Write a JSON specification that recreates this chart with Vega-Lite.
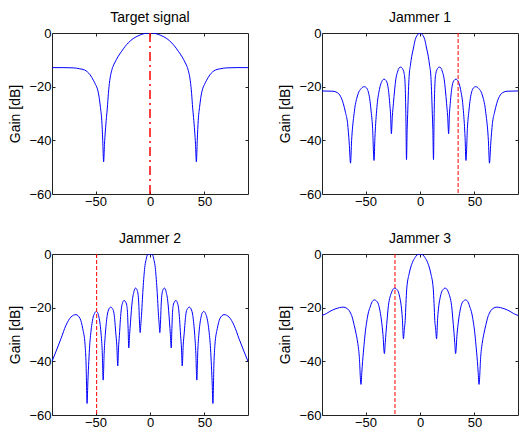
{
"$schema":"https://vega.github.io/schema/vega-lite/v6.json",
"padding":{"left":8,"top":10,"right":0,"bottom":0},
"datasets":{
"curves":[
{"p":"T","a":-90,"g":-12.9},{"p":"T","a":-80,"g":-12.9},{"p":"T","a":-70,"g":-13.0},{"p":"T","a":-65,"g":-13.3},{"p":"T","a":-60,"g":-13.8},{"p":"T","a":-55,"g":-15.6},{"p":"T","a":-52,"g":-17.6},{"p":"T","a":-50,"g":-19.2},{"p":"T","a":-48,"g":-21.3},{"p":"T","a":-46.5,"g":-24.5},{"p":"T","a":-45.5,"g":-27.8},{"p":"T","a":-44.3,"g":-32.5},{"p":"T","a":-43.4,"g":-40},{"p":"T","a":-42.6,"g":-48},{"p":"T","a":-41.8,"g":-41.5},{"p":"T","a":-41,"g":-36.5},{"p":"T","a":-40,"g":-31.5},{"p":"T","a":-39.2,"g":-28},{"p":"T","a":-38.2,"g":-22.5},{"p":"T","a":-37,"g":-17.8},{"p":"T","a":-35.5,"g":-14.5},{"p":"T","a":-34,"g":-12.5},{"p":"T","a":-32,"g":-10.8},{"p":"T","a":-29.5,"g":-8.9},{"p":"T","a":-26,"g":-6.8},{"p":"T","a":-23,"g":-5.1},{"p":"T","a":-20,"g":-3.7},{"p":"T","a":-15.5,"g":-2.1},{"p":"T","a":-10,"g":-0.9},{"p":"T","a":-5,"g":-0.2},{"p":"T","a":0,"g":0},
{"p":"T","a":5,"g":-0.2},{"p":"T","a":10,"g":-0.9},{"p":"T","a":15.5,"g":-2.1},{"p":"T","a":20,"g":-3.7},{"p":"T","a":23,"g":-5.1},{"p":"T","a":26,"g":-6.8},{"p":"T","a":29.5,"g":-8.9},{"p":"T","a":32,"g":-10.8},{"p":"T","a":34,"g":-12.5},{"p":"T","a":35.5,"g":-14.5},{"p":"T","a":37,"g":-17.8},{"p":"T","a":38.2,"g":-22.5},{"p":"T","a":39.2,"g":-28},{"p":"T","a":40,"g":-31.5},{"p":"T","a":41,"g":-36.5},{"p":"T","a":41.8,"g":-41.5},{"p":"T","a":42.6,"g":-48},{"p":"T","a":43.4,"g":-40},{"p":"T","a":44.3,"g":-32.5},{"p":"T","a":45.5,"g":-27.8},{"p":"T","a":46.5,"g":-24.5},{"p":"T","a":48,"g":-21.3},{"p":"T","a":50,"g":-19.2},{"p":"T","a":52,"g":-17.6},{"p":"T","a":55,"g":-15.6},{"p":"T","a":60,"g":-13.8},{"p":"T","a":65,"g":-13.3},{"p":"T","a":70,"g":-13.0},{"p":"T","a":80,"g":-12.9},{"p":"T","a":90,"g":-12.9},

{"p":"J1","a":-90,"g":-21.6},{"p":"J1","a":-80,"g":-21.7},{"p":"J1","a":-76,"g":-22.2},{"p":"J1","a":-73,"g":-23.6},{"p":"J1","a":-70.5,"g":-26.2},{"p":"J1","a":-68.5,"g":-29.5},{"p":"J1","a":-66.5,"g":-33.7},{"p":"J1","a":-65,"g":-41},{"p":"J1","a":-63.8,"g":-48.5},{"p":"J1","a":-62.8,"g":-40},{"p":"J1","a":-61.9,"g":-35},{"p":"J1","a":-60.8,"g":-31},{"p":"J1","a":-59.7,"g":-27.5},{"p":"J1","a":-58.3,"g":-24.7},{"p":"J1","a":-56.7,"g":-22.5},{"p":"J1","a":-54,"g":-20.7},{"p":"J1","a":-51.2,"g":-20},{"p":"J1","a":-49,"g":-20.5},{"p":"J1","a":-47.5,"g":-21.9},{"p":"J1","a":-46.2,"g":-24.5},{"p":"J1","a":-45,"g":-28.7},{"p":"J1","a":-43.6,"g":-35},{"p":"J1","a":-42.2,"g":-47.5},{"p":"J1","a":-41.4,"g":-39},{"p":"J1","a":-40.7,"g":-33.7},{"p":"J1","a":-39.8,"g":-28.8},{"p":"J1","a":-38.9,"g":-25},{"p":"J1","a":-37.8,"g":-22.2},{"p":"J1","a":-36.7,"g":-20},{"p":"J1","a":-35,"g":-18},{"p":"J1","a":-33,"g":-17.2},{"p":"J1","a":-31.2,"g":-17.7},{"p":"J1","a":-29.7,"g":-19.4},{"p":"J1","a":-28.7,"g":-22.2},{"p":"J1","a":-27.8,"g":-26.2},{"p":"J1","a":-27,"g":-30.5},{"p":"J1","a":-26.3,"g":-37.5},{"p":"J1","a":-25.4,"g":-31},{"p":"J1","a":-24.4,"g":-26.2},{"p":"J1","a":-23.3,"g":-21.2},{"p":"J1","a":-22.3,"g":-17.5},{"p":"J1","a":-20.7,"g":-14.6},{"p":"J1","a":-19.3,"g":-13.1},{"p":"J1","a":-17.7,"g":-12.7},{"p":"J1","a":-16.1,"g":-13.3},{"p":"J1","a":-14.6,"g":-15},{"p":"J1","a":-13.8,"g":-18},{"p":"J1","a":-13.4,"g":-22.5},{"p":"J1","a":-12.9,"g":-33},{"p":"J1","a":-12.4,"g":-47.2},{"p":"J1","a":-11.8,"g":-36},{"p":"J1","a":-11.2,"g":-28.7},{"p":"J1","a":-10.6,"g":-21.5},{"p":"J1","a":-10,"g":-16.2},{"p":"J1","a":-8.8,"g":-12},{"p":"J1","a":-7.6,"g":-8.7},{"p":"J1","a":-6,"g":-5.6},{"p":"J1","a":-4.4,"g":-2.5},{"p":"J1","a":-2.5,"g":-0.8},{"p":"J1","a":-1.2,"g":-0.2},{"p":"J1","a":0,"g":0},
{"p":"J1","a":1.2,"g":-0.2},{"p":"J1","a":2.5,"g":-0.8},{"p":"J1","a":4.4,"g":-2.5},{"p":"J1","a":6,"g":-5.6},{"p":"J1","a":7.6,"g":-8.7},{"p":"J1","a":8.8,"g":-12},{"p":"J1","a":10,"g":-16.2},{"p":"J1","a":10.6,"g":-21.5},{"p":"J1","a":11.2,"g":-28.7},{"p":"J1","a":11.8,"g":-36},{"p":"J1","a":12.4,"g":-47.2},{"p":"J1","a":12.9,"g":-33},{"p":"J1","a":13.4,"g":-22.5},{"p":"J1","a":13.8,"g":-18},{"p":"J1","a":14.6,"g":-15},{"p":"J1","a":16.1,"g":-13.3},{"p":"J1","a":17.7,"g":-12.7},{"p":"J1","a":19.3,"g":-13.1},{"p":"J1","a":20.7,"g":-14.6},{"p":"J1","a":22.3,"g":-17.5},{"p":"J1","a":23.3,"g":-21.2},{"p":"J1","a":24.4,"g":-26.2},{"p":"J1","a":25.4,"g":-31},{"p":"J1","a":26.3,"g":-37.5},{"p":"J1","a":27,"g":-30.5},{"p":"J1","a":27.8,"g":-26.2},{"p":"J1","a":28.7,"g":-22.2},{"p":"J1","a":29.7,"g":-19.4},{"p":"J1","a":31.2,"g":-17.7},{"p":"J1","a":33,"g":-17.2},{"p":"J1","a":35,"g":-18},{"p":"J1","a":36.7,"g":-20},{"p":"J1","a":37.8,"g":-22.2},{"p":"J1","a":38.9,"g":-25},{"p":"J1","a":39.8,"g":-28.8},{"p":"J1","a":40.7,"g":-33.7},{"p":"J1","a":41.4,"g":-39},{"p":"J1","a":42.2,"g":-47.5},{"p":"J1","a":43.6,"g":-35},{"p":"J1","a":45,"g":-28.7},{"p":"J1","a":46.2,"g":-24.5},{"p":"J1","a":47.5,"g":-21.9},{"p":"J1","a":49,"g":-20.5},{"p":"J1","a":51.2,"g":-20},{"p":"J1","a":54,"g":-20.7},{"p":"J1","a":56.7,"g":-22.5},{"p":"J1","a":58.3,"g":-24.7},{"p":"J1","a":59.7,"g":-27.5},{"p":"J1","a":60.8,"g":-31},{"p":"J1","a":61.9,"g":-35},{"p":"J1","a":62.8,"g":-40},{"p":"J1","a":63.8,"g":-48.5},{"p":"J1","a":65,"g":-41},{"p":"J1","a":66.5,"g":-33.7},{"p":"J1","a":68.5,"g":-29.5},{"p":"J1","a":70.5,"g":-26.2},{"p":"J1","a":73,"g":-23.6},{"p":"J1","a":76,"g":-22.2},{"p":"J1","a":80,"g":-21.7},{"p":"J1","a":90,"g":-21.6},

{"p":"J2","a":-90,"g":-40},{"p":"J2","a":-86.5,"g":-36.5},{"p":"J2","a":-81.8,"g":-31.6},{"p":"J2","a":-77.2,"g":-26.6},{"p":"J2","a":-72.6,"g":-23.5},{"p":"J2","a":-68,"g":-22.6},{"p":"J2","a":-64.2,"g":-24.1},{"p":"J2","a":-61.8,"g":-27.8},{"p":"J2","a":-59.6,"g":-34},{"p":"J2","a":-58.7,"g":-41},{"p":"J2","a":-57.8,"g":-55.7},{"p":"J2","a":-57,"g":-47},{"p":"J2","a":-56.2,"g":-40},{"p":"J2","a":-55.4,"g":-34},{"p":"J2","a":-54.6,"g":-30.3},{"p":"J2","a":-52.5,"g":-24.1},{"p":"J2","a":-51,"g":-22.2},{"p":"J2","a":-49.4,"g":-21.4},{"p":"J2","a":-47.9,"g":-22},{"p":"J2","a":-46.9,"g":-23.5},{"p":"J2","a":-45.8,"g":-26.2},{"p":"J2","a":-44.8,"g":-30.3},{"p":"J2","a":-43.9,"g":-36},{"p":"J2","a":-43,"g":-47},{"p":"J2","a":-42.1,"g":-37},{"p":"J2","a":-41.1,"g":-30.3},{"p":"J2","a":-40.2,"g":-26},{"p":"J2","a":-39.3,"g":-22.9},{"p":"J2","a":-37.7,"g":-20.5},{"p":"J2","a":-36.1,"g":-19.8},{"p":"J2","a":-34.6,"g":-20.3},{"p":"J2","a":-33.3,"g":-21.6},{"p":"J2","a":-32.4,"g":-24.5},{"p":"J2","a":-31.5,"g":-29.1},{"p":"J2","a":-30.5,"g":-34},{"p":"J2","a":-29.6,"g":-41.7},{"p":"J2","a":-28.9,"g":-35},{"p":"J2","a":-28.1,"g":-30.3},{"p":"J2","a":-27.2,"g":-24.5},{"p":"J2","a":-26.3,"g":-20.4},{"p":"J2","a":-25,"g":-18},{"p":"J2","a":-23.8,"g":-17.3},{"p":"J2","a":-22.5,"g":-17.8},{"p":"J2","a":-21.3,"g":-19.2},{"p":"J2","a":-20.6,"g":-22.5},{"p":"J2","a":-20.1,"g":-27.8},{"p":"J2","a":-19.5,"g":-35},{"p":"J2","a":-18.7,"g":-30},{"p":"J2","a":-17.9,"g":-25.4},{"p":"J2","a":-17.1,"g":-21},{"p":"J2","a":-16.4,"g":-17.9},{"p":"J2","a":-14.8,"g":-14.1},{"p":"J2","a":-13.3,"g":-12.7},{"p":"J2","a":-12,"g":-13.3},{"p":"J2","a":-10.8,"g":-15.5},{"p":"J2","a":-10.2,"g":-19.5},{"p":"J2","a":-9.6,"g":-26},{"p":"J2","a":-9,"g":-29.3},{"p":"J2","a":-8.4,"g":-26},{"p":"J2","a":-7.8,"g":-22.9},{"p":"J2","a":-7,"g":-17},{"p":"J2","a":-6.2,"g":-11.8},{"p":"J2","a":-4.6,"g":-4.3},{"p":"J2","a":-3.5,"g":-2},{"p":"J2","a":-2.5,"g":-0.4},{"p":"J2","a":-1,"g":-0.05},{"p":"J2","a":0,"g":0},
{"p":"J2","a":1,"g":-0.05},{"p":"J2","a":2.5,"g":-0.4},{"p":"J2","a":3.5,"g":-2},{"p":"J2","a":4.6,"g":-4.3},{"p":"J2","a":6.2,"g":-11.8},{"p":"J2","a":7,"g":-17},{"p":"J2","a":7.8,"g":-22.9},{"p":"J2","a":8.4,"g":-26},{"p":"J2","a":9,"g":-29.3},{"p":"J2","a":9.6,"g":-26},{"p":"J2","a":10.2,"g":-19.5},{"p":"J2","a":10.8,"g":-15.5},{"p":"J2","a":12,"g":-13.3},{"p":"J2","a":13.3,"g":-12.7},{"p":"J2","a":14.8,"g":-14.1},{"p":"J2","a":16.4,"g":-17.9},{"p":"J2","a":17.1,"g":-21},{"p":"J2","a":17.9,"g":-25.4},{"p":"J2","a":18.7,"g":-30},{"p":"J2","a":19.5,"g":-35},{"p":"J2","a":20.1,"g":-27.8},{"p":"J2","a":20.6,"g":-22.5},{"p":"J2","a":21.3,"g":-19.2},{"p":"J2","a":22.5,"g":-17.8},{"p":"J2","a":23.8,"g":-17.3},{"p":"J2","a":25,"g":-18},{"p":"J2","a":26.3,"g":-20.4},{"p":"J2","a":27.2,"g":-24.5},{"p":"J2","a":28.1,"g":-30.3},{"p":"J2","a":28.9,"g":-35},{"p":"J2","a":29.6,"g":-41.7},{"p":"J2","a":30.5,"g":-34},{"p":"J2","a":31.5,"g":-29.1},{"p":"J2","a":32.4,"g":-24.5},{"p":"J2","a":33.3,"g":-21.6},{"p":"J2","a":34.6,"g":-20.3},{"p":"J2","a":36.1,"g":-19.8},{"p":"J2","a":37.7,"g":-20.5},{"p":"J2","a":39.3,"g":-22.9},{"p":"J2","a":40.2,"g":-26},{"p":"J2","a":41.1,"g":-30.3},{"p":"J2","a":42.1,"g":-37},{"p":"J2","a":43,"g":-47},{"p":"J2","a":43.9,"g":-36},{"p":"J2","a":44.8,"g":-30.3},{"p":"J2","a":45.8,"g":-26.2},{"p":"J2","a":46.9,"g":-23.5},{"p":"J2","a":47.9,"g":-22},{"p":"J2","a":49.4,"g":-21.4},{"p":"J2","a":51,"g":-22.2},{"p":"J2","a":52.5,"g":-24.1},{"p":"J2","a":54.6,"g":-30.3},{"p":"J2","a":55.4,"g":-34},{"p":"J2","a":56.2,"g":-40},{"p":"J2","a":57,"g":-47},{"p":"J2","a":57.8,"g":-55.7},{"p":"J2","a":58.7,"g":-41},{"p":"J2","a":59.6,"g":-34},{"p":"J2","a":61.8,"g":-27.8},{"p":"J2","a":64.2,"g":-24.1},{"p":"J2","a":68,"g":-22.6},{"p":"J2","a":72.6,"g":-23.5},{"p":"J2","a":77.2,"g":-26.6},{"p":"J2","a":81.8,"g":-31.6},{"p":"J2","a":86.5,"g":-36.5},{"p":"J2","a":90,"g":-40},

{"p":"J3","a":-90,"g":-22.9},{"p":"J3","a":-86,"g":-22.2},{"p":"J3","a":-82.8,"g":-21.4},{"p":"J3","a":-78,"g":-20.5},{"p":"J3","a":-74,"g":-20},{"p":"J3","a":-70.5,"g":-19.8},{"p":"J3","a":-67,"g":-20.3},{"p":"J3","a":-64.3,"g":-21.6},{"p":"J3","a":-62.3,"g":-23.5},{"p":"J3","a":-60.4,"g":-26.6},{"p":"J3","a":-58.8,"g":-29.5},{"p":"J3","a":-57.3,"g":-32.8},{"p":"J3","a":-55.8,"g":-38},{"p":"J3","a":-54.2,"g":-48.6},{"p":"J3","a":-53.4,"g":-44},{"p":"J3","a":-52.7,"g":-40},{"p":"J3","a":-51.4,"g":-34},{"p":"J3","a":-50.2,"g":-29},{"p":"J3","a":-49,"g":-25.4},{"p":"J3","a":-47.5,"g":-22},{"p":"J3","a":-45.9,"g":-19.9},{"p":"J3","a":-44,"g":-17.8},{"p":"J3","a":-41.9,"g":-17.1},{"p":"J3","a":-40,"g":-17.5},{"p":"J3","a":-38.2,"g":-18.7},{"p":"J3","a":-36.7,"g":-21.3},{"p":"J3","a":-35.2,"g":-25.4},{"p":"J3","a":-34,"g":-30},{"p":"J3","a":-32.7,"g":-37.1},{"p":"J3","a":-31.9,"g":-33},{"p":"J3","a":-31.2,"g":-29.2},{"p":"J3","a":-30,"g":-23.5},{"p":"J3","a":-29,"g":-19.2},{"p":"J3","a":-27.5,"g":-16},{"p":"J3","a":-26,"g":-14.2},{"p":"J3","a":-24.5,"g":-13},{"p":"J3","a":-22.9,"g":-12.7},{"p":"J3","a":-21.3,"g":-13.2},{"p":"J3","a":-19.8,"g":-14.2},{"p":"J3","a":-18.5,"g":-16.3},{"p":"J3","a":-17.3,"g":-19.2},{"p":"J3","a":-16.2,"g":-24},{"p":"J3","a":-15.2,"g":-31.6},{"p":"J3","a":-14.4,"g":-28},{"p":"J3","a":-13.6,"g":-24.8},{"p":"J3","a":-12.9,"g":-18.5},{"p":"J3","a":-12.2,"g":-13.1},{"p":"J3","a":-10,"g":-7.4},{"p":"J3","a":-6.9,"g":-3.1},{"p":"J3","a":-4.5,"g":-1.3},{"p":"J3","a":-2.9,"g":-0.4},{"p":"J3","a":-1.5,"g":-0.1},{"p":"J3","a":0,"g":0},
{"p":"J3","a":1.5,"g":-0.1},{"p":"J3","a":2.9,"g":-0.4},{"p":"J3","a":4.5,"g":-1.3},{"p":"J3","a":6.9,"g":-3.1},{"p":"J3","a":10,"g":-7.4},{"p":"J3","a":12.2,"g":-13.1},{"p":"J3","a":12.9,"g":-18.5},{"p":"J3","a":13.6,"g":-24.8},{"p":"J3","a":14.4,"g":-28},{"p":"J3","a":15.2,"g":-31.6},{"p":"J3","a":16.2,"g":-24},{"p":"J3","a":17.3,"g":-19.2},{"p":"J3","a":18.5,"g":-16.3},{"p":"J3","a":19.8,"g":-14.2},{"p":"J3","a":21.3,"g":-13.2},{"p":"J3","a":22.9,"g":-12.7},{"p":"J3","a":24.5,"g":-13},{"p":"J3","a":26,"g":-14.2},{"p":"J3","a":27.5,"g":-16},{"p":"J3","a":29,"g":-19.2},{"p":"J3","a":30,"g":-23.5},{"p":"J3","a":31.2,"g":-29.2},{"p":"J3","a":31.9,"g":-33},{"p":"J3","a":32.7,"g":-37.1},{"p":"J3","a":34,"g":-30},{"p":"J3","a":35.2,"g":-25.4},{"p":"J3","a":36.7,"g":-21.3},{"p":"J3","a":38.2,"g":-18.7},{"p":"J3","a":40,"g":-17.5},{"p":"J3","a":41.9,"g":-17.1},{"p":"J3","a":44,"g":-17.8},{"p":"J3","a":45.9,"g":-19.9},{"p":"J3","a":47.5,"g":-22},{"p":"J3","a":49,"g":-25.4},{"p":"J3","a":50.2,"g":-29},{"p":"J3","a":51.4,"g":-34},{"p":"J3","a":52.7,"g":-40},{"p":"J3","a":53.4,"g":-44},{"p":"J3","a":54.2,"g":-48.6},{"p":"J3","a":55.8,"g":-38},{"p":"J3","a":57.3,"g":-32.8},{"p":"J3","a":58.8,"g":-29.5},{"p":"J3","a":60.4,"g":-26.6},{"p":"J3","a":62.3,"g":-23.5},{"p":"J3","a":64.3,"g":-21.6},{"p":"J3","a":67,"g":-20.3},{"p":"J3","a":70.5,"g":-19.8},{"p":"J3","a":74,"g":-20},{"p":"J3","a":78,"g":-20.5},{"p":"J3","a":82.8,"g":-21.4},{"p":"J3","a":86,"g":-22.2},{"p":"J3","a":90,"g":-22.9}
],
"markers":[{"p":"T","a":0},{"p":"J1","a":35},{"p":"J2","a":-49},{"p":"J3","a":-23}]
},
"vconcat":[
{"hconcat":[
{"width":196,"height":161,"title":"Target signal",
 "layer":[
  {"data":{"name":"curves"},"transform":[{"filter":"datum.p=='T'"}],"mark":{"type":"line","color":"#0000ff","strokeWidth":1,"interpolate":"monotone","clip":true},
   "encoding":{"x":{"field":"a","type":"quantitative","scale":{"domain":[-90,90],"nice":false,"zero":false},"axis":{"values":[-50,0,50],"title":null}},
               "y":{"field":"g","type":"quantitative","scale":{"domain":[-60,0],"nice":false},"axis":{"values":[0,-20,-40,-60],"title":"Gain [dB]"}}}},
  {"data":{"name":"markers"},"transform":[{"filter":"datum.p=='T'"}],"mark":{"type":"rule","color":"#ff0000","strokeWidth":1.5,"strokeDash":[9,4,2,4]},
   "encoding":{"x":{"field":"a","type":"quantitative","axis":null}}},
  {"data":{"name":"curves"},"transform":[{"filter":"datum.p=='T'"}],"mark":{"type":"line","strokeOpacity":0},
   "encoding":{"x":{"field":"a","type":"quantitative","axis":{"orient":"top","labels":false,"title":null,"values":[-50,0,50]}},
               "y":{"field":"g","type":"quantitative","axis":{"orient":"right","labels":false,"title":null,"values":[-20,-40]}}}}
 ],
 "resolve":{"axis":{"x":"independent","y":"independent"}}},
{"width":196,"height":161,"title":"Jammer 1",
 "layer":[
  {"data":{"name":"curves"},"transform":[{"filter":"datum.p=='J1'"}],"mark":{"type":"line","color":"#0000ff","strokeWidth":1,"interpolate":"monotone","clip":true},
   "encoding":{"x":{"field":"a","type":"quantitative","scale":{"domain":[-90,90],"nice":false,"zero":false},"axis":{"values":[-50,0,50],"title":null}},
               "y":{"field":"g","type":"quantitative","scale":{"domain":[-60,0],"nice":false},"axis":{"values":[0,-20,-40,-60],"title":"Gain [dB]"}}}},
  {"data":{"name":"markers"},"transform":[{"filter":"datum.p=='J1'"}],"mark":{"type":"rule","color":"#ff0000","strokeWidth":1,"strokeDash":[4,2]},
   "encoding":{"x":{"field":"a","type":"quantitative","axis":null}}},
  {"data":{"name":"curves"},"transform":[{"filter":"datum.p=='J1'"}],"mark":{"type":"line","strokeOpacity":0},
   "encoding":{"x":{"field":"a","type":"quantitative","axis":{"orient":"top","labels":false,"title":null,"values":[-50,0,50]}},
               "y":{"field":"g","type":"quantitative","axis":{"orient":"right","labels":false,"title":null,"values":[-20,-40]}}}}
 ],
 "resolve":{"axis":{"x":"independent","y":"independent"}}}
],"spacing":29},
{"hconcat":[
{"width":196,"height":161,"title":"Jammer 2",
 "layer":[
  {"data":{"name":"curves"},"transform":[{"filter":"datum.p=='J2'"}],"mark":{"type":"line","color":"#0000ff","strokeWidth":1,"interpolate":"monotone","clip":true},
   "encoding":{"x":{"field":"a","type":"quantitative","scale":{"domain":[-90,90],"nice":false,"zero":false},"axis":{"values":[-50,0,50],"title":null}},
               "y":{"field":"g","type":"quantitative","scale":{"domain":[-60,0],"nice":false},"axis":{"values":[0,-20,-40,-60],"title":"Gain [dB]"}}}},
  {"data":{"name":"markers"},"transform":[{"filter":"datum.p=='J2'"}],"mark":{"type":"rule","color":"#ff0000","strokeWidth":1,"strokeDash":[4,2]},
   "encoding":{"x":{"field":"a","type":"quantitative","axis":null}}},
  {"data":{"name":"curves"},"transform":[{"filter":"datum.p=='J2'"}],"mark":{"type":"line","strokeOpacity":0},
   "encoding":{"x":{"field":"a","type":"quantitative","axis":{"orient":"top","labels":false,"title":null,"values":[-50,0,50]}},
               "y":{"field":"g","type":"quantitative","axis":{"orient":"right","labels":false,"title":null,"values":[-20,-40]}}}}
 ],
 "resolve":{"axis":{"x":"independent","y":"independent"}}},
{"width":196,"height":161,"title":"Jammer 3",
 "layer":[
  {"data":{"name":"curves"},"transform":[{"filter":"datum.p=='J3'"}],"mark":{"type":"line","color":"#0000ff","strokeWidth":1,"interpolate":"monotone","clip":true},
   "encoding":{"x":{"field":"a","type":"quantitative","scale":{"domain":[-90,90],"nice":false,"zero":false},"axis":{"values":[-50,0,50],"title":null}},
               "y":{"field":"g","type":"quantitative","scale":{"domain":[-60,0],"nice":false},"axis":{"values":[0,-20,-40,-60],"title":"Gain [dB]"}}}},
  {"data":{"name":"markers"},"transform":[{"filter":"datum.p=='J3'"}],"mark":{"type":"rule","color":"#ff0000","strokeWidth":1,"strokeDash":[4,2]},
   "encoding":{"x":{"field":"a","type":"quantitative","axis":null}}},
  {"data":{"name":"curves"},"transform":[{"filter":"datum.p=='J3'"}],"mark":{"type":"line","strokeOpacity":0},
   "encoding":{"x":{"field":"a","type":"quantitative","axis":{"orient":"top","labels":false,"title":null,"values":[-50,0,50]}},
               "y":{"field":"g","type":"quantitative","axis":{"orient":"right","labels":false,"title":null,"values":[-20,-40]}}}}
 ],
 "resolve":{"axis":{"x":"independent","y":"independent"}}}
],"spacing":29}
],
"spacing":22,
"config":{
 "view":{"stroke":"#222222","strokeWidth":1},
 "title":{"font":"Liberation Sans","fontSize":14,"fontWeight":"normal","color":"#000000","offset":2},
 "axis":{"labelFont":"Liberation Sans","labelFontSize":13,"labelColor":"#000000","titleFont":"Liberation Sans","titleFontSize":14,"titleFontWeight":"normal","titleColor":"#000000","tickColor":"#222222","tickSize":-3,"domain":false,"grid":false,"labelPadding":4,"titlePadding":6}
}
}
